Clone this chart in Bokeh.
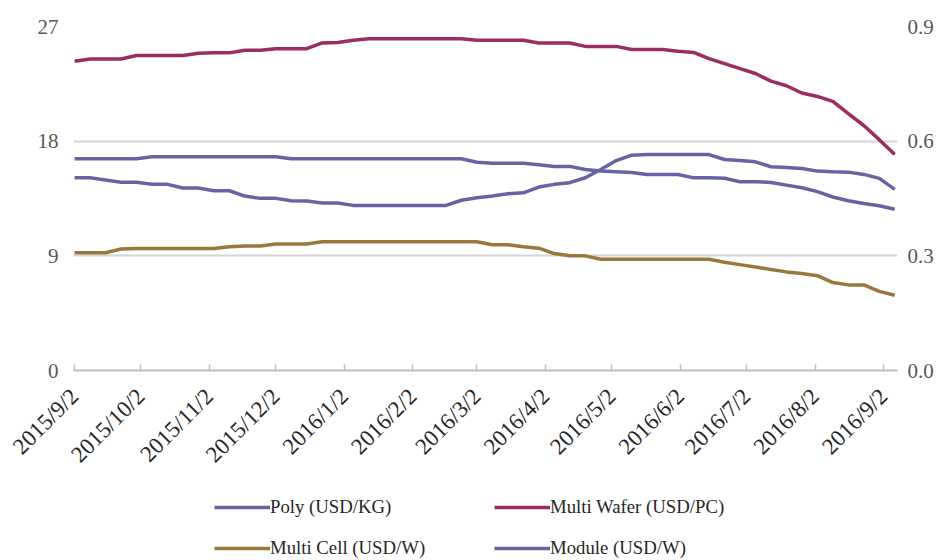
import math
import pandas as pd
from bokeh.plotting import figure
from bokeh.layouts import column
from bokeh.models import (Range1d, LinearAxis, FixedTicker, NumeralTickFormatter,
                          Legend, LegendItem, ColumnDataSource)
from bokeh.embed import file_html
from bokeh.resources import INLINE

# ---------------- data (weekly, from 2015/9/2) ----------------
start_date = "2015-09-02"

tick_labels = ["2015/9/2", "2015/10/2", "2015/11/2", "2015/12/2", "2016/1/2",
               "2016/2/2", "2016/3/2", "2016/4/2", "2016/5/2", "2016/6/2",
               "2016/7/2", "2016/8/2", "2016/9/2"]

# Poly (USD/KG) - left axis
poly = [15.13, 15.13, 14.95, 14.77, 14.77, 14.61, 14.61, 14.32, 14.32, 14.11,
        14.11, 13.69, 13.51, 13.51, 13.33, 13.30, 13.15, 13.15, 12.96, 12.96,
        12.96, 12.96, 12.96, 12.96, 12.96, 13.36, 13.56, 13.69, 13.88, 13.95,
        14.40, 14.61, 14.74, 15.13, 15.78, 16.48, 16.90, 16.95, 16.95, 16.95,
        16.95, 16.95, 16.56, 16.48, 16.38, 15.99, 15.94, 15.86, 15.65, 15.60,
        15.57, 15.39, 15.08, 14.22]

# Multi Wafer (USD/PC) - right axis
wafer = [0.809, 0.815, 0.815, 0.815, 0.824, 0.824, 0.824, 0.824, 0.830, 0.831,
         0.831, 0.838, 0.838, 0.842, 0.842, 0.842, 0.857, 0.858, 0.864, 0.868,
         0.868, 0.868, 0.868, 0.868, 0.868, 0.868, 0.864, 0.864, 0.864, 0.864,
         0.857, 0.857, 0.857, 0.848, 0.848, 0.848, 0.840, 0.840, 0.840, 0.835,
         0.832, 0.816, 0.803, 0.790, 0.777, 0.757, 0.745, 0.726, 0.717, 0.704,
         0.672, 0.641, 0.604, 0.565]

# Multi Cell (USD/W) - right axis
cell = [0.308, 0.308, 0.308, 0.318, 0.319, 0.319, 0.319, 0.319, 0.319, 0.319,
        0.324, 0.326, 0.326, 0.331, 0.331, 0.331, 0.337, 0.337, 0.337, 0.337,
        0.337, 0.337, 0.337, 0.337, 0.337, 0.337, 0.337, 0.329, 0.329, 0.324,
        0.320, 0.306, 0.300, 0.300, 0.291, 0.291, 0.291, 0.291, 0.291, 0.291,
        0.291, 0.291, 0.283, 0.277, 0.271, 0.264, 0.258, 0.254, 0.248, 0.230,
        0.224, 0.224, 0.207, 0.197]

# Module (USD/W) - right axis
module = [0.554, 0.554, 0.554, 0.554, 0.554, 0.559, 0.559, 0.559, 0.559, 0.559,
          0.559, 0.559, 0.559, 0.559, 0.554, 0.554, 0.554, 0.554, 0.554, 0.554,
          0.554, 0.554, 0.554, 0.554, 0.554, 0.554, 0.545, 0.542, 0.542, 0.542,
          0.538, 0.534, 0.534, 0.526, 0.522, 0.520, 0.518, 0.513, 0.513, 0.513,
          0.504, 0.504, 0.503, 0.494, 0.494, 0.492, 0.485, 0.478, 0.468, 0.454,
          0.444, 0.437, 0.431, 0.422]

series_names = ["Poly (USD/KG)", "Multi Wafer (USD/PC)", "Multi Cell (USD/W)", "Module (USD/W)"]
series_cols = ["poly", "wafer", "cell", "module"]

# ---------------- build ----------------
dates = pd.date_range(start_date, periods=len(poly), freq="7D")
src = ColumnDataSource(dict(date=dates, poly=poly, wafer=wafer, cell=cell, module=module))

def ms(ts):
    return pd.Timestamp(ts).timestamp() * 1000.0

tick_ms = [ms(pd.to_datetime(t, format="%Y/%m/%d")) for t in tick_labels]

x_start = ms(dates[0]) - 12 * 3600 * 1000
x_end = ms(dates[-1]) + 30 * 3600 * 1000

FONT = "Liberation Serif"
PURPLE = "#6664A2"
WAFER = "#9B2D61"
CELL = "#9A773C"
colors = [PURPLE, WAFER, CELL, PURPLE]
LW = 3.5

p = figure(width=944, height=490, x_axis_type="datetime",
           x_range=Range1d(x_start, x_end), y_range=Range1d(0, 27),
           output_backend="svg", toolbar_location=None,
           min_border_left=73, min_border_right=47, min_border_top=26,
           min_border_bottom=120)
p.extra_y_ranges = {"right": Range1d(0, 0.9)}
p.outline_line_color = None

p.line("date", "poly", source=src, line_color=colors[0], line_width=LW)
p.line("date", "module", source=src, line_color=colors[3], line_width=LW, y_range_name="right")
p.line("date", "wafer", source=src, line_color=colors[1], line_width=LW, y_range_name="right")
p.line("date", "cell", source=src, line_color=colors[2], line_width=LW, y_range_name="right")

# grid
p.xgrid.visible = False
p.ygrid.ticker = FixedTicker(ticks=[9, 18, 27])
p.ygrid.grid_line_color = "#D4D4D4"
p.ygrid.grid_line_width = 2

# x axis
xa = p.xaxis[0]
xa.ticker = FixedTicker(ticks=tick_ms)
xa.major_label_overrides = {t: lbl for t, lbl in zip(tick_ms, tick_labels)}
xa.major_label_orientation = math.pi / 4
xa.axis_line_color = "#BFBFBF"
xa.axis_line_width = 2
xa.major_tick_line_color = "#BFBFBF"
xa.major_tick_line_width = 1.5
xa.major_tick_in = 6
xa.major_tick_out = 0
xa.minor_tick_line_color = None
xa.major_label_text_font = FONT
xa.major_label_text_font_size = "23px"
xa.major_label_text_color = "#262626"
xa.major_label_standoff = 22

# left axis
ya = p.yaxis[0]
ya.ticker = FixedTicker(ticks=[0, 9, 18, 27])
ya.axis_line_color = None
ya.major_tick_line_color = None
ya.minor_tick_line_color = None
ya.major_tick_in = 0
ya.major_tick_out = 0
ya.major_label_text_font = FONT
ya.major_label_text_font_size = "21px"
ya.major_label_text_color = "#595959"
ya.major_label_standoff = 15

# right axis
ra = LinearAxis(y_range_name="right", ticker=FixedTicker(ticks=[0, 0.3, 0.6, 0.9]),
                formatter=NumeralTickFormatter(format="0.0"))
ra.axis_line_color = None
ra.major_tick_line_color = None
ra.minor_tick_line_color = None
ra.major_tick_in = 0
ra.major_tick_out = 0
ra.major_label_text_font = FONT
ra.major_label_text_font_size = "21px"
ra.major_label_text_color = "#595959"
ra.major_label_standoff = 10
p.add_layout(ra, "right")

# ---------------- legend strip ----------------
# (its frame is aligned with the chart frame by the column layout; the series
#  lines here fall outside its 0..1 ranges, only the legend keys are visible)
lg = figure(width=944, height=70, x_range=Range1d(0, 1), y_range=Range1d(0, 1),
            output_backend="svg", toolbar_location=None, min_border=0,
            x_axis_location=None, y_axis_location=None)
lg.outline_line_color = None
lg.grid.visible = False
key_renderers = [lg.line("date", col, source=src, line_color=c, line_width=LW)
                 for col, c in zip(series_cols, colors)]

legend = Legend(items=[LegendItem(label=n, renderers=[r]) for n, r in zip(series_names, key_renderers)],
                location=(141, 1), orientation="horizontal", ncols=2,
                padding=0, margin=0, spacing=19, glyph_width=56, glyph_height=20,
                label_height=20, label_width=205, label_standoff=0,
                label_text_font=FONT, label_text_font_size="18.75px",
                label_text_color="#262626", border_line_color=None,
                background_fill_alpha=0)
lg.add_layout(legend)

layout = column(p, lg)
open("out.html", "w").write(file_html(layout, INLINE))
